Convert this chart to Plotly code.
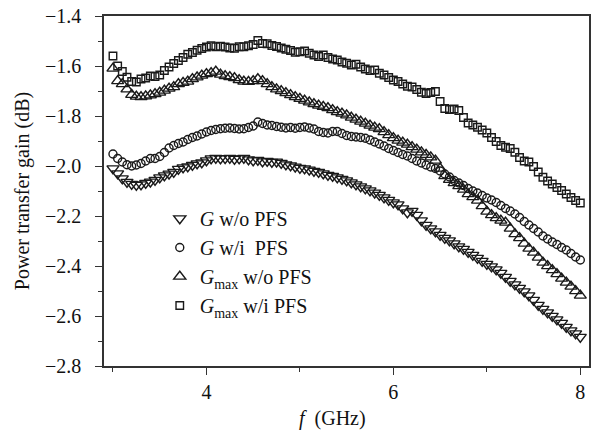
import plotly.graph_objects as go

# sampling grid (GHz)
freq = [round(3.0 + 0.05 * i, 2) for i in range(101)]

g_wo_pfs = [
    -2.010, -2.030, -2.050, -2.064, -2.072, -2.076, -2.074, -2.068, -2.063, -2.056,
    -2.046, -2.038, -2.031, -2.024, -2.012, -2.006, -2.002, -1.996, -1.990, -1.986,
    -1.978, -1.970, -1.968, -1.970, -1.969, -1.968, -1.972, -1.970, -1.968, -1.974,
    -1.978, -1.976, -1.982, -1.980, -1.984, -1.983, -1.988, -1.994, -1.998, -2.003,
    -2.008, -2.010, -2.015, -2.020, -2.024, -2.030, -2.036, -2.040, -2.046, -2.052,
    -2.058, -2.066, -2.074, -2.082, -2.090, -2.098, -2.107, -2.116, -2.126, -2.136,
    -2.146, -2.154, -2.170, -2.186, -2.180, -2.196, -2.218, -2.236, -2.250, -2.262,
    -2.276, -2.288, -2.298, -2.310, -2.322, -2.332, -2.344, -2.356, -2.368, -2.380,
    -2.392, -2.402, -2.414, -2.428, -2.444, -2.460, -2.474, -2.488, -2.502, -2.518,
    -2.536, -2.556, -2.572, -2.586, -2.600, -2.614, -2.628, -2.644, -2.658, -2.670,
    -2.684,
]

g_wi_pfs = [
    -1.952, -1.970, -1.984, -1.995, -2.000, -1.996, -1.990, -1.980, -1.970, -1.970,
    -1.962, -1.946, -1.928, -1.918, -1.910, -1.904, -1.894, -1.886, -1.880, -1.872,
    -1.864, -1.858, -1.854, -1.851, -1.849, -1.848, -1.850, -1.852, -1.851, -1.846,
    -1.840, -1.824, -1.830, -1.836, -1.838, -1.842, -1.845, -1.848, -1.846, -1.849,
    -1.846, -1.844, -1.848, -1.852, -1.862, -1.866, -1.868, -1.862, -1.862, -1.870,
    -1.878, -1.882, -1.884, -1.886, -1.889, -1.896, -1.904, -1.912, -1.920, -1.930,
    -1.938, -1.946, -1.954, -1.960, -1.970, -1.980, -1.988, -1.996, -2.004, -2.010,
    -2.020, -2.032, -2.044, -2.058, -2.068, -2.078, -2.090, -2.100, -2.108, -2.118,
    -2.128, -2.136, -2.146, -2.158, -2.170, -2.180, -2.192, -2.206, -2.222, -2.236,
    -2.250, -2.264, -2.280, -2.292, -2.304, -2.314, -2.326, -2.336, -2.350, -2.364,
    -2.376,
]

gmax_wo_pfs = [
    -1.610, -1.660, -1.672, -1.693, -1.715, -1.722, -1.724, -1.721, -1.717, -1.712,
    -1.706, -1.698, -1.690, -1.684, -1.672, -1.667, -1.662, -1.652, -1.645, -1.638,
    -1.632, -1.628, -1.622, -1.634, -1.640, -1.644, -1.648, -1.656, -1.662, -1.663,
    -1.660, -1.652, -1.660, -1.672, -1.684, -1.693, -1.700, -1.708, -1.716, -1.724,
    -1.731, -1.738, -1.745, -1.752, -1.758, -1.763, -1.768, -1.776, -1.784, -1.790,
    -1.797, -1.806, -1.814, -1.822, -1.830, -1.838, -1.846, -1.852, -1.864, -1.876,
    -1.888, -1.898, -1.906, -1.914, -1.924, -1.934, -1.945, -1.955, -1.965, -1.978,
    -2.010, -2.040, -2.055, -2.068, -2.080, -2.094, -2.112, -2.124, -2.138, -2.160,
    -2.182, -2.196, -2.208, -2.218, -2.226, -2.250, -2.272, -2.288, -2.310, -2.330,
    -2.346, -2.366, -2.386, -2.400, -2.416, -2.432, -2.450, -2.466, -2.482, -2.500,
    -2.518,
]

gmax_wi_pfs = [
    -1.560, -1.600, -1.622, -1.645, -1.662, -1.664, -1.652, -1.648, -1.640, -1.642,
    -1.636, -1.618, -1.604, -1.590, -1.578, -1.566, -1.553, -1.546, -1.537, -1.530,
    -1.524, -1.519, -1.523, -1.521, -1.524, -1.528, -1.529, -1.523, -1.523, -1.519,
    -1.514, -1.498, -1.510, -1.511, -1.518, -1.522, -1.528, -1.533, -1.538, -1.545,
    -1.543, -1.540, -1.549, -1.556, -1.562, -1.556, -1.566, -1.572, -1.576, -1.584,
    -1.589, -1.596, -1.593, -1.604, -1.612, -1.618, -1.616, -1.629, -1.636, -1.646,
    -1.656, -1.662, -1.672, -1.681, -1.684, -1.694, -1.705, -1.710, -1.706, -1.702,
    -1.742, -1.770, -1.774, -1.772, -1.778, -1.806, -1.828, -1.836, -1.845, -1.856,
    -1.868, -1.886, -1.902, -1.918, -1.925, -1.930, -1.945, -1.966, -1.980, -1.984,
    -2.002, -2.024, -2.045, -2.060, -2.072, -2.086, -2.098, -2.112, -2.126, -2.138,
    -2.148,
]

series_names = [
    "<i>G</i> w/o PFS",
    "<i>G</i> w/i  PFS",
    "<i>G</i><sub>max</sub> w/o PFS",
    "<i>G</i><sub>max</sub> w/i PFS",
]
series_values = [g_wo_pfs, g_wi_pfs, gmax_wo_pfs, gmax_wi_pfs]
symbols = ["triangle-down-open", "circle-open", "triangle-up-open", "square-open"]
sizes = [10.5, 8, 10.5, 7.5]

y_ticks = [-2.8, -2.6, -2.4, -2.2, -2.0, -1.8, -1.6, -1.4]
y_ticklabels = ["\u22122.8", "\u22122.6", "\u22122.4", "\u22122.2", "\u22122.0",
                "\u22121.8", "\u22121.6", "\u22121.4"]
x_ticks = [4, 6, 8]
x_ticklabels = ["4", "6", "8"]

FONT = "Liberation Serif, Times New Roman, serif"
INK = "#1a1a1a"

fig = go.Figure()
for name, vals, sym, sz in zip(series_names, series_values, symbols, sizes):
    fig.add_trace(go.Scatter(
        x=freq, y=vals, mode="markers", name=name, showlegend=False,
        marker=dict(symbol=sym, size=sz, color=INK, line=dict(width=1.4, color=INK)),
    ))
# legend samples (markers only)
for name, sym, sz in zip(series_names, symbols, sizes):
    fig.add_trace(go.Scatter(
        x=[None], y=[None], mode="markers", name=name, showlegend=True,
        marker=dict(symbol=sym, size=sz, color=INK, line=dict(width=1.4, color=INK)),
    ))

axis_common = dict(
    showline=True, linecolor="#333333", linewidth=1.5, mirror=True,
    showgrid=False, zeroline=False, ticks="outside", ticklen=7, tickwidth=1.3,
    tickcolor="#333333", tickfont=dict(family=FONT, size=20, color="#111111"),
)

fig.update_xaxes(
    range=[2.904, 8.093], tickmode="array", tickvals=x_ticks, ticktext=x_ticklabels,
    minor=dict(tickmode="array", tickvals=[3, 5, 7], ticks="outside", ticklen=4,
               tickwidth=1.3, tickcolor="#333333"),
    **axis_common,
)
fig.update_yaxes(
    range=[-2.8, -1.4], tickmode="array", tickvals=y_ticks, ticktext=y_ticklabels,
    minor=dict(tickmode="array", tickvals=[-2.7, -2.5, -2.3, -2.1, -1.9, -1.7, -1.5],
               ticks="outside", ticklen=4, tickwidth=1.3, tickcolor="#333333"),
    ticklabelstandoff=10,
    title=dict(text="Power transfer gain (dB)", font=dict(family=FONT, size=20, color="#111111"),
               standoff=10),
    **axis_common,
)

fig.add_annotation(
    text="<i>f</i>  (GHz)", xref="paper", yref="paper",
    x=(333 - 104) / 487, y=-(418 - 366) / 350, xanchor="center", yanchor="middle",
    showarrow=False, font=dict(family=FONT, size=20, color="#111111"),
)

fig.update_layout(
    width=594, height=430,
    margin=dict(l=104, r=3, t=16, b=64),
    paper_bgcolor="white", plot_bgcolor="white",
    showlegend=True,
    legend=dict(
        x=(160 - 104) / 487, y=(366 - 199) / 350, xanchor="left", yanchor="top",
        bgcolor="rgba(0,0,0,0)", borderwidth=0,
        font=dict(family=FONT, size=20, color="#111111"),
        itemwidth=30, tracegroupgap=0,
    ),
)

fig.write_html("out.html")
